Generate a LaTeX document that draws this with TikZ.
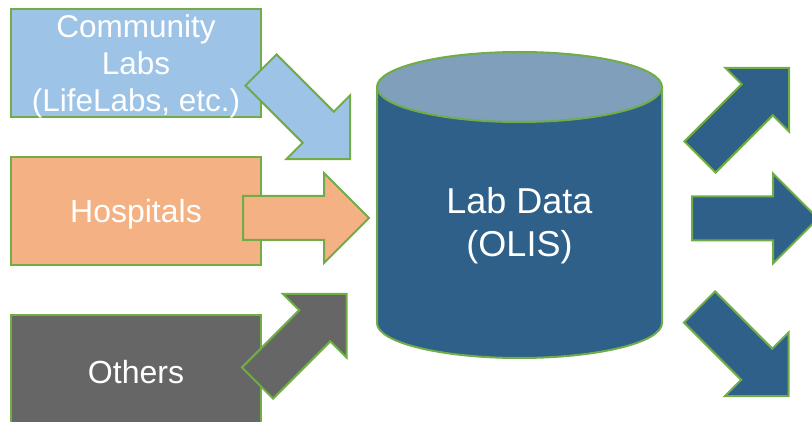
\documentclass[tikz,border=0pt]{standalone}
\usepackage{fontspec}
\setmainfont{Liberation Sans}

\definecolor{edgegreen}{HTML}{70AD47}
\definecolor{commblue}{HTML}{9DC3E6}
\definecolor{hosporange}{HTML}{F4B183}
\definecolor{othergray}{HTML}{666666}
\definecolor{dbblue}{HTML}{2E6089}
\definecolor{dbtop}{HTML}{7F9FBA}

\begin{document}
\begin{tikzpicture} [x = 1pt, y = 1pt]
        %style
        \tikzset{edge/.style = {draw=edgegreen, line width=2pt, line join=miter}}
        \tikzset{source/.style = {shape=rectangle, edge, minimum width=250pt, minimum height=108pt, inner sep=0pt, text=white, align=center, font=\fontsize{32}{38}\selectfont}}
        \tikzset{dbtext/.style = {text=white, align=center, inner sep=0pt, font=\fontsize{36}{43}\selectfont}}
        \tikzset{pics/fatarrow/.style = {code = {\draw[edge, fill=#1] (0,-22) -- (81,-22) -- (81,-45) -- (126,0) -- (81,45) -- (81,22) -- (0,22) -- cycle;}}}
        \useasboundingbox (0,0) rectangle (812,-422);
        % sources
        \node[source, fill=commblue, text depth=0pt, font=\fontsize{31.5}{37}\selectfont] (comm)   at (136,-63)    {Community\\Labs\\(LifeLabs, etc.)};
        \node[source, fill=hosporange, text depth=0pt]                  (hosp)   at (136,-211)   {Hospitals};
        \node[source, fill=othergray, minimum height=115pt]             (others) at (136,-372.5) {Others};
        % arrows in
        \pic[rotate=-45] (commin)   at (261,-70)    {fatarrow=commblue};
        \pic             (hospin)   at (243,-218)   {fatarrow=hosporange};
        \pic[rotate=45]  (othersin) at (257.5,-383) {fatarrow=othergray};
        % database
        \fill[dbblue] (377,-87) -- (377,-323) arc[start angle=180, end angle=360, x radius=142.5, y radius=35] -- (662,-87) -- cycle;
        \draw[edge] (377,-87) -- (377,-323) arc[start angle=180, end angle=360, x radius=142.5, y radius=35] -- (662,-87);
        \draw[edge, fill=dbtop] (519.5,-87) ellipse[x radius=142.5, y radius=35];
        \node[dbtext] (db) at (519.5,-226) {Lab Data\\(OLIS)};
        % arrows out
        \pic[rotate=45]  (outup)  at (700,-157)   {fatarrow=dbblue};
        \pic             (outmid) at (692,-218.5) {fatarrow=dbblue};
        \pic[rotate=-45] (outlow) at (699.5,-307) {fatarrow=dbblue};
\end{tikzpicture}
\end{document}
